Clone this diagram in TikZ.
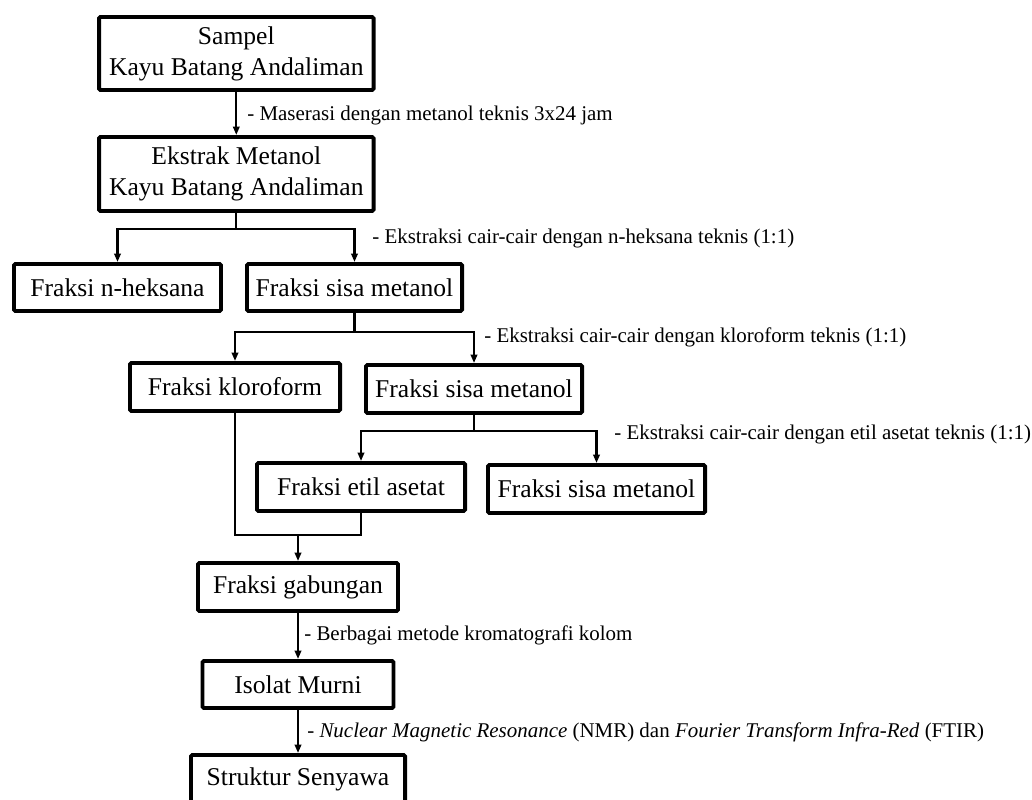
\documentclass[tikz,border=0pt]{standalone}
\usepackage{fontspec}
\setmainfont{Liberation Serif}
\usetikzlibrary{arrows.meta}

\begin{document}
\begin{tikzpicture}[x=0.025cm,y=-0.025cm,
		box/.style={draw,line width=2.8pt,rectangle,rounded corners=1pt,inner sep=0pt,align=center,font=\fontsize{18.2}{22}\selectfont},
		link/.style={line width=1.5pt,-{Triangle[length=6pt,width=4.6pt]}},
		note/.style={anchor=west,inner sep=0pt,font=\fontsize{14.9}{18}\selectfont}]
	\useasboundingbox (0,0) rectangle (1032,800);
	\clip (0,0) rectangle (1032,800);
	
	% boxes
	\node[box,minimum width=6.86cm,minimum height=1.825cm] (sampel) at (236.3,53.5) {Sampel\\Kayu Batang Andaliman};
	\node[box,minimum width=6.86cm,minimum height=1.85cm] (ekstrak) at (236.3,174) {Ekstrak Metanol\\Kayu Batang Andaliman};
	\node[box,minimum width=5.175cm,minimum height=1.175cm] (heksana) at (117.5,287.5) {Fraksi n-heksana};
	\node[box,minimum width=5.375cm,minimum height=1.175cm] (sisaA) at (354.5,287.5) {Fraksi sisa metanol};
	\node[box,minimum width=5.25cm,minimum height=1.2cm] (kloroform) at (235,387) {Fraksi kloroform};
	\node[box,minimum width=5.4cm,minimum height=1.2cm] (sisaB) at (474,389) {Fraksi sisa metanol};
	\node[box,minimum width=5.2cm,minimum height=1.2cm] (etil) at (361,487) {Fraksi etil asetat};
	\node[box,minimum width=5.425cm,minimum height=1.2cm] (sisaC) at (596.5,489) {Fraksi sisa metanol};
	\node[box,minimum width=5.0cm,minimum height=1.2cm] (gabungan) at (298,587) {Fraksi gabungan};
	\node[box,minimum width=4.775cm,minimum height=1.175cm] (isolat) at (298,684.5) {Isolat Murni};
	\node[box,minimum width=5.35cm,minimum height=1.2cm] (struktur) at (298,779) {Struktur Senyawa};
	
	% branch points
	\coordinate (bA) at (236.3,229);
	\coordinate (bB) at (354.5,332);
	\coordinate (bC) at (474,431);
	\coordinate (bD) at (298,535);
	
	% connectors
	\draw[link] (sampel) -- (ekstrak);
	\draw[line width=1.5pt] (ekstrak.south) -- (bA);
	\draw[link] (bA) -| (heksana.north);
	\draw[link] (bA) -| (sisaA.north);
	\draw[line width=1.5pt] (sisaA.south) -- (bB);
	\draw[link] (bB) -| (kloroform.north);
	\draw[link] (bB) -| (sisaB.north);
	\draw[line width=1.5pt] (sisaB.south) -- (bC);
	\draw[link] (bC) -| (etil.north);
	\draw[link] (bC) -| (sisaC.north);
	\draw[line width=1.5pt] (kloroform.south) |- (bD) -| (etil.south);
	\draw[link] (bD) -- (gabungan.north);
	\draw[link] (gabungan) -- (isolat);
	\draw[link] (isolat) -- (struktur);
	
	% notes
	\node[note] (nA) at (247,115) {- Maserasi dengan metanol teknis 3x24 jam};
	\node[note] (nB) at (372,238) {- Ekstraksi cair-cair dengan n-heksana teknis (1:1)};
	\node[note] (nC) at (484,337) {- Ekstraksi cair-cair dengan kloroform teknis (1:1)};
	\node[note] (nD) at (614,434) {- Ekstraksi cair-cair dengan etil asetat teknis (1:1)};
	\node[note] (nE) at (304,635) {- Berbagai metode kromatografi kolom};
	\node[note] (nF) at (307,732) {- \textit{Nuclear Magnetic Resonance} (NMR) dan \textit{Fourier Transform Infra-Red} (FTIR)};
\end{tikzpicture}
\end{document}
